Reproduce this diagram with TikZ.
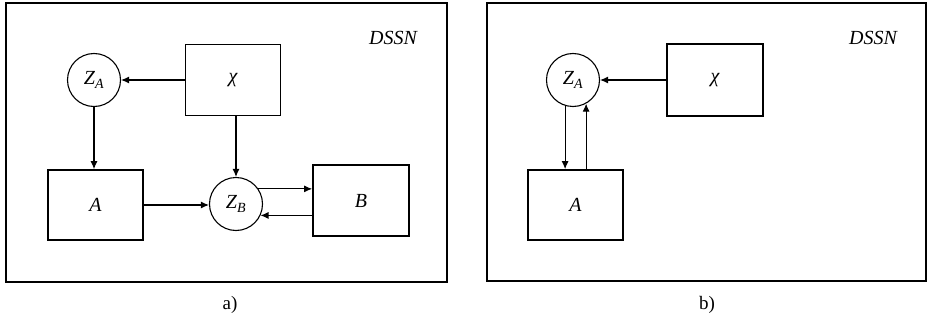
\documentclass[tikz,border=0pt]{standalone}
\usepackage{fontspec}
\setmainfont{Liberation Serif}
\usetikzlibrary{arrows.meta}
\begin{document}
\begin{tikzpicture}[x=1pt,y=-1pt,
  lbl/.style={font=\fontsize{20}{24}\selectfont\itshape},
  frame/.style={draw,line width=1.8pt},
  blockbox/.style={draw,line width=1.7pt,minimum width=95pt,minimum height=71pt,inner sep=0pt,lbl},
  zcirc/.style={circle,draw,line width=1.1pt,minimum size=53pt,inner sep=0pt,lbl},
  conn/.style={-{Latex[length=8pt,width=7pt]},line width=1.1pt},
  caption/.style={font=\fontsize{19}{22}\selectfont}]
\useasboundingbox (0,0) rectangle (927,321);

% ---------- panel a ----------
\draw[frame] (6,3) rectangle (447,282);
\node[lbl] (dssnA) at (393,38) {DSSN};
\node[zcirc] (zaA) at (94,80) {Z\textsubscript{A}};
\node[blockbox] (chiA) at (233,80) {χ};
\node[blockbox,minimum height=70pt] (aA) at (95.5,205) {A};
\node[zcirc] (zbA) at (236,204) {Z\textsubscript{B}};
\node[blockbox,minimum width=96pt] (bA) at (361,200.5) {B};
\node[caption] (capA) at (230,305) {a)};

\draw[conn] (chiA.west) -- (zaA.east);
\draw[conn] (zaA.south) -- (zaA.south |- aA.north);
\draw[conn] (zbA.north |- chiA.south) -- (zbA.north);
\draw[conn] (aA.east) -- (aA.east -| zbA.west);
\draw[conn] (zbA.34) -- (zbA.34 -| bA.west);
\draw[conn] (bA.west |- zbA.-25) -- (zbA.-25);

% ---------- panel b ----------
\draw[frame] (487,3) rectangle (926,281);
\node[lbl] (dssnB) at (873,38) {DSSN};
\node[zcirc] (zaB) at (573,80) {Z\textsubscript{A}};
\node[blockbox,minimum width=96pt,minimum height=72pt] (chiB) at (715,80) {χ};
\node[blockbox,minimum height=70pt] (aB) at (575.5,205) {A};
\node[caption] (capB) at (707,305) {b)};

\draw[conn] (chiB.west) -- (zaB.east);
\draw[conn] (zaB.-107) -- (zaB.-107 |- aB.north);
\draw[conn] (aB.north -| zaB.-61) -- (zaB.-61);
\end{tikzpicture}
\end{document}
